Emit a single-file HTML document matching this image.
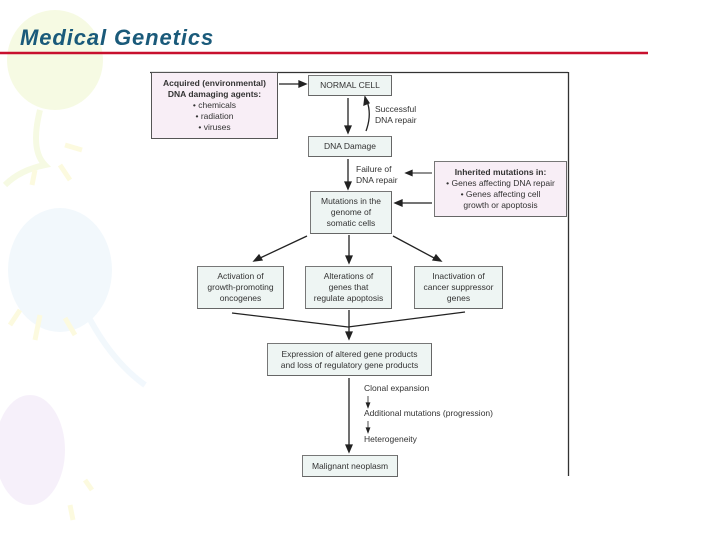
<!DOCTYPE html>
<html><head><meta charset="utf-8"><style>
body{margin:0;width:720px;height:540px;position:relative;overflow:hidden;background:#fff;font-family:"Liberation Sans",sans-serif}
.b{position:absolute;box-sizing:border-box;border:1px solid #777;background:#eef5f3;color:#333;font-size:8.5px;line-height:11px;text-align:center;display:flex;align-items:center;justify-content:center;border-right:1.5px solid #666;border-bottom:1.5px solid #666}
.p{background:#f8eef6}
.t{position:absolute;font-size:8.5px;line-height:11px;color:#333}
</style></head><body>
<svg width="720" height="540" style="position:absolute;left:0;top:0">
<g opacity="0.5">
<ellipse cx="55" cy="60" rx="48" ry="50" fill="#eef6c8"/>
<path d="M40 110 Q30 150 45 165 Q20 170 5 185" stroke="#eef6c8" stroke-width="6" fill="none"/>
<ellipse cx="60" cy="270" rx="52" ry="62" fill="#e6f2fb"/>
<path d="M85 310 Q110 360 145 385" stroke="#e6f2fb" stroke-width="6" fill="none"/>
<ellipse cx="30" cy="450" rx="35" ry="55" fill="#efe2f6"/>
<path d="M65 145 L82 150 M35 170 L32 185 M60 165 L70 180 M20 310 L10 325 M40 315 L35 340 M65 318 L75 335 M85 480 L92 490 M70 505 L73 520" stroke="#fbf6c0" stroke-width="5"/>
</g>
<line x1="0" y1="53" x2="648" y2="53" stroke="#c8102e" stroke-width="2.5"/>
<g stroke="#222" stroke-width="1.3" fill="#222">
<line x1="150" y1="72.5" x2="568" y2="72.5" stroke="#333"/>
<line x1="568.5" y1="72" x2="568.5" y2="476" stroke="#333"/>
<line x1="279" y1="84" x2="301" y2="84"/><polygon points="306,84 299,81 299,87"/>
<line x1="348" y1="98" x2="348" y2="128"/><polygon points="348,133 345,126 351,126"/>
<path d="M366 131 Q372 115 367 101" fill="none"/><polygon points="365,97 364,105 369,103"/>
<line x1="348" y1="159" x2="348" y2="184"/><polygon points="348,189 345,182 351,182"/>
<line x1="432" y1="173" x2="411" y2="173" stroke-width="1"/><polygon points="406,173 412,170.5 412,175.5"/>
<line x1="432" y1="203" x2="400" y2="203"/><polygon points="395,203 402,200 402,206"/>
<line x1="307" y1="236" x2="258" y2="259"/><polygon points="254,261 262,260 259,255"/>
<line x1="349" y1="235" x2="349" y2="258"/><polygon points="349,263 346,256 352,256"/>
<line x1="393" y1="236" x2="436" y2="259"/><polygon points="441,261 436,255 433,260"/>
<path d="M232 313 L348 327 L465 312" fill="none"/>
<line x1="349" y1="310" x2="349" y2="334"/><polygon points="349,339 346,332 352,332"/>
<line x1="349" y1="378" x2="349" y2="447"/><polygon points="349,452 346,445 352,445"/>
<line x1="368" y1="396" x2="368" y2="404" stroke-width="0.8"/><polygon points="368,407 366.5,403 369.5,403"/>
<line x1="368" y1="421" x2="368" y2="429" stroke-width="0.8"/><polygon points="368,432 366.5,428 369.5,428"/>
</g>
</svg>
<div style="position:absolute;left:20px;top:25px;font-size:22px;letter-spacing:0.9px;font-weight:bold;font-style:italic;color:#1a5a7a">Medical Genetics</div>
<div class="b p" style="left:151px;top:72px;width:127px;height:67px;border-color:#555"><div><b>Acquired (environmental)<br>DNA damaging agents:</b><br>• chemicals<br>• radiation<br>• viruses</div></div>
<div class="b" style="left:308px;top:75px;width:84px;height:21px">NORMAL CELL</div>
<div class="t" style="left:375px;top:104px">Successful<br>DNA repair</div>
<div class="b" style="left:308px;top:136px;width:84px;height:21px">DNA Damage</div>
<div class="t" style="left:356px;top:164px">Failure of<br>DNA repair</div>
<div class="b p" style="left:434px;top:161px;width:133px;height:56px"><div><b>Inherited mutations in:</b><br>• Genes affecting DNA repair<br>• Genes affecting cell<br>growth or apoptosis</div></div>
<div class="b" style="left:310px;top:191px;width:82px;height:43px">Mutations in the<br>genome of<br>somatic cells</div>
<div class="b" style="left:197px;top:266px;width:87px;height:43px">Activation of<br>growth-promoting<br>oncogenes</div>
<div class="b" style="left:305px;top:266px;width:87px;height:43px">Alterations of<br>genes that<br>regulate apoptosis</div>
<div class="b" style="left:414px;top:266px;width:89px;height:43px">Inactivation of<br>cancer suppressor<br>genes</div>
<div class="b" style="left:267px;top:343px;width:165px;height:33px">Expression of altered gene products<br>and loss of regulatory gene products</div>
<div class="t" style="left:364px;top:383px">Clonal expansion</div>
<div class="t" style="left:364px;top:408px">Additional mutations (progression)</div>
<div class="t" style="left:364px;top:434px">Heterogeneity</div>
<div class="b" style="left:302px;top:455px;width:96px;height:22px">Malignant neoplasm</div>
</body></html>
